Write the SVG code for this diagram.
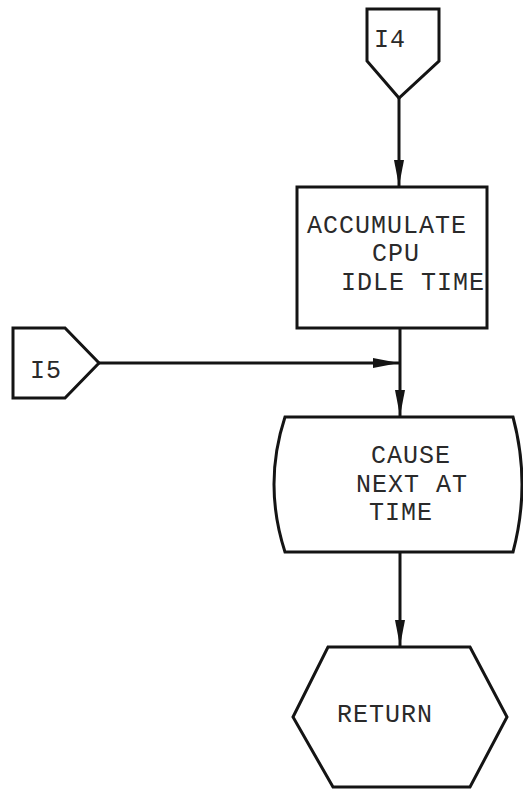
<svg xmlns="http://www.w3.org/2000/svg" width="523" height="789" viewBox="0 0 523 789">
  <style>
    .shape { fill: none; stroke: #141414; stroke-width: 3; stroke-linejoin: miter; }
    .wire { fill: none; stroke: #141414; stroke-width: 3; }
    .label { font-family: "Liberation Mono", "DejaVu Sans Mono", monospace; font-size: 25px; letter-spacing: 1px; fill: #2a2a2a; }
  </style>
  <defs>
    <marker id="arrow" viewBox="0 0 26 10" refX="26" refY="5" markerWidth="26" markerHeight="10" markerUnits="userSpaceOnUse" orient="auto">
      <path d="M0,0 L26,5 L0,10 Z" fill="#141414"/>
    </marker>
  </defs>
  <rect width="523" height="789" fill="#ffffff"/>

  <g id="connectors">
    <path class="wire" d="M399,98 L399,186" marker-end="url(#arrow)"/>
    <path class="wire" d="M400,328 L400,416" marker-end="url(#arrow)"/>
    <path class="wire" d="M99,363 L399,363" marker-end="url(#arrow)"/>
    <path class="wire" d="M400,552 L400,646" marker-end="url(#arrow)"/>
  </g>

  <g id="I4">
    <path class="shape" d="M367,9 L439,9 L439,61 L399,98 L367,61 Z"/>
    <text class="label" x="374" y="47">I4</text>
  </g>

  <g id="accumulate">
    <rect class="shape" x="297" y="187" width="190" height="141"/>
    <text class="label" x="307" y="233">ACCUMULATE</text>
    <text class="label" x="372" y="261">CPU</text>
    <text class="label" x="341" y="290">IDLE TIME</text>
  </g>

  <g id="I5">
    <path class="shape" d="M13,328 L65,328 L99,363 L65,398 L13,398 Z"/>
    <text class="label" x="30" y="378">I5</text>
  </g>

  <g id="cause">
    <path class="shape" d="M285,417 L513,417 Q531,484 513,552 L285,552 Q263,484 285,417 Z"/>
    <text class="label" x="371" y="463">CAUSE</text>
    <text class="label" x="356" y="492">NEXT AT</text>
    <text class="label" x="369" y="520">TIME</text>
  </g>

  <g id="return">
    <path class="shape" d="M328,647 L470,647 L507,717 L470,787 L333,787 L293,717 Z"/>
    <text class="label" x="337" y="722">RETURN</text>
  </g>
</svg>
